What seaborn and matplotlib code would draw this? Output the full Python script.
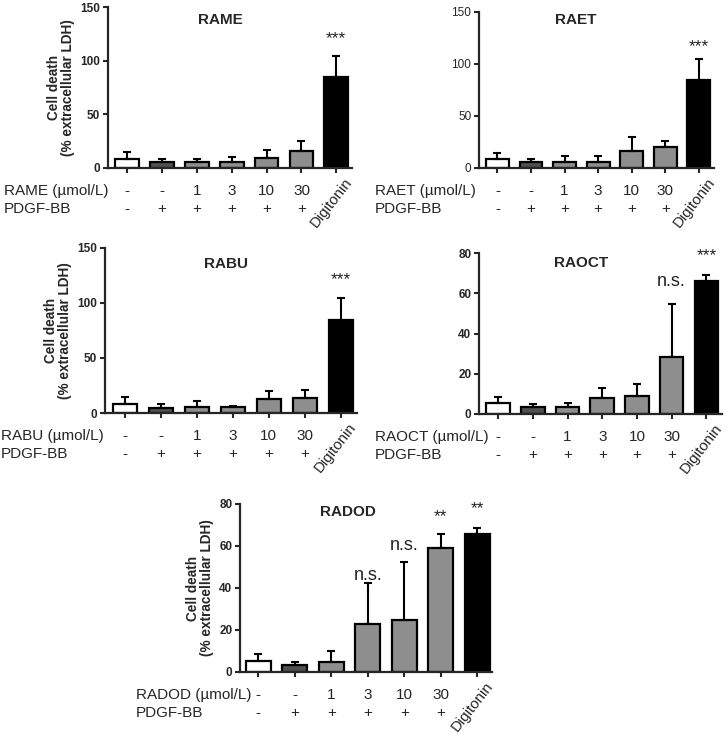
import matplotlib
matplotlib.use("Agg")
import matplotlib.pyplot as plt
import pandas as pd
import seaborn as sns

sns.set_style("ticks")
plt.rcParams['font.family'] = ['Liberation Sans', 'DejaVu Sans']

# Data (mean and upper SD)
groups = ['ctrl', 'pdgf', '1', '3', '10', '30', 'Digitonin']
conc_labels = ['-', '-', '1', '3', '10', '30']
pdgf_labels = ['-', '+', '+', '+', '+', '+']
bar_colors = ['white', '#505050', '#8e8e8e', '#8e8e8e', '#8e8e8e', '#8e8e8e', 'black']

rame_mean = [8.4, 5.5, 5.3, 5.3, 9.3, 15.5, 85.0]
rame_err = [6.1, 3.2, 3.4, 4.6, 7.1, 9.5, 19.0]
raet_mean = [8.6, 5.4, 5.7, 5.7, 15.9, 20.3, 84.8]
raet_err = [6.0, 3.2, 6.1, 5.4, 14.0, 6.1, 19.7]
rabu_mean = [8.2, 4.5, 5.5, 5.5, 13.0, 13.3, 84.8]
rabu_err = [6.0, 3.4, 5.7, 0.9, 7.3, 7.6, 19.7]
raoct_mean = [5.3, 3.5, 3.3, 7.8, 9.1, 28.5, 66.0]
raoct_err = [3.2, 1.3, 2.3, 5.1, 5.7, 26.3, 3.2]
radod_mean = [5.2, 3.3, 4.6, 22.9, 24.8, 59.0, 65.7]
radod_err = [3.2, 1.3, 5.3, 19.7, 27.7, 6.8, 3.0]

W, H = 727, 736
fig = plt.figure(figsize=(W / 100, H / 100), dpi=100)
PX = 0.72  # pixels -> points
ROW_FS = 11


def make_ax(left, right, top, bottom):
    return fig.add_axes([left / W, 1 - bottom / H, (right - left) / W, (bottom - top) / H])


def draw_panel(ax, name, mean, err, ymax, yticks, title_pos, sigs,
               ylabel=True, bold_ticks=True, xlim=(-0.55, 6.45)):
    df = pd.DataFrame({'group': groups, 'value': mean})
    sns.barplot(data=df, x='group', y='value', hue='group', palette=bar_colors,
                legend=False, edgecolor='black', linewidth=1.6, width=0.68,
                saturation=1, ax=ax)
    ax.errorbar(range(len(groups)), mean, yerr=[[0] * len(err), err], fmt='none',
                ecolor='black', elinewidth=1.5, capsize=3.2, capthick=1.5, zorder=3)
    ax.set_ylim(0, ymax)
    ax.set_xlim(*xlim)
    ax.set_yticks(yticks)
    ax.set_xticks(range(len(groups)))
    ax.set_xticklabels([])
    ax.set_xlabel('')
    fw = 'bold' if bold_ticks else 'normal'
    ax.set_yticklabels([str(t) for t in yticks], fontsize=8.5, fontweight=fw)
    for s in ['top', 'right']:
        ax.spines[s].set_visible(False)
    for s in ['left', 'bottom']:
        ax.spines[s].set_linewidth(1.6)
    ax.tick_params(axis='both', width=1.5, length=3.5, pad=2)
    if ylabel:
        ax.set_ylabel('Cell death\n(% extracellular LDH)', fontsize=9.8,
                      fontweight='bold', labelpad=4, linespacing=1.0)
    else:
        ax.set_ylabel('')
    ax.text(title_pos[0], title_pos[1], name, transform=ax.transAxes,
            ha='center', va='center', fontsize=11, fontweight='bold')

    # two label rows under the axis
    row1, row2 = -23 * PX, -41 * PX
    ax.annotate(name + ' (µmol/L)', xy=(0, 0), xycoords='axes fraction',
                xytext=(-104 * PX, row1), textcoords='offset points',
                ha='left', va='center', fontsize=ROW_FS)
    ax.annotate('PDGF-BB', xy=(0, 0), xycoords='axes fraction',
                xytext=(-104 * PX, row2), textcoords='offset points',
                ha='left', va='center', fontsize=ROW_FS)
    for i, (c, p) in enumerate(zip(conc_labels, pdgf_labels)):
        ax.annotate(c, xy=(i, 0), xycoords=('data', 'axes fraction'),
                    xytext=(0, row1), textcoords='offset points',
                    ha='center', va='center', fontsize=ROW_FS)
        ax.annotate(p, xy=(i, 0), xycoords=('data', 'axes fraction'),
                    xytext=(0, row2), textcoords='offset points',
                    ha='center', va='center', fontsize=ROW_FS)
    ax.annotate('Digitonin', xy=(6, 0), xycoords=('data', 'axes fraction'),
                xytext=(-5 * PX, -35 * PX), textcoords='offset points',
                ha='center', va='center', rotation=52, fontsize=10.8)

    # significance marks
    for i, txt, yv in sigs:
        fs = 13 if txt == 'n.s.' else 12.5
        ax.text(i, yv, txt, ha='center', va='center', fontsize=fs,
                clip_on=False, color='#222222')


ax1 = make_ax(108, 352, 7, 168)
draw_panel(ax1, 'RAME', rame_mean, rame_err, 150, [0, 50, 100, 150],
           (0.46, 0.92), [(6, '***', 121)])

ax2 = make_ax(479, 714, 12, 168)
draw_panel(ax2, 'RAET', raet_mean, raet_err, 150, [0, 50, 100, 150],
           (0.41, 0.95), [(6, '***', 117)], ylabel=False, bold_ticks=False)

ax3 = make_ax(105, 357, 248, 413)
draw_panel(ax3, 'RABU', rabu_mean, rabu_err, 150, [0, 50, 100, 150],
           (0.48, 0.90), [(6, '***', 121)])

ax4 = make_ax(479, 722, 253, 414)
draw_panel(ax4, 'RAOCT', raoct_mean, raoct_err, 80, [0, 20, 40, 60, 80],
           (0.42, 0.94), [(5, 'n.s.', 65.6), (6, '***', 78.5)], ylabel=False)

ax5 = make_ax(240, 492, 504, 672)
draw_panel(ax5, 'RADOD', radod_mean, radod_err, 80, [0, 20, 40, 60, 80],
           (0.43, 0.95), [(3, 'n.s.', 46), (4, 'n.s.', 60.4), (5, '**', 74), (6, '**', 78)],
           xlim=(-0.5, 6.4))

fig.savefig('out.png', dpi=100)
